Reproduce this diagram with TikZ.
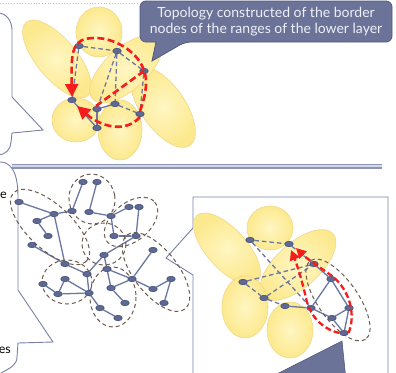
\documentclass[tikz,border=0pt]{standalone}
\usepackage{fontspec}
\setmainfont{Lato}
\usetikzlibrary{shapes.geometric,arrows.meta}

\definecolor{petalin}{HTML}{FFF6C2}
\definecolor{petalout}{HTML}{FCE98E}
\definecolor{petalline}{HTML}{F2D88A}
\definecolor{ndfill}{HTML}{5E6A93}
\definecolor{ndline}{HTML}{454F78}
\definecolor{edgecol}{HTML}{6A77A3}
\definecolor{clustercol}{HTML}{6E5C50}
\definecolor{redcol}{HTML}{F51C1C}
\definecolor{boxfill}{HTML}{6B7398}
\definecolor{boxline}{HTML}{525A82}
\definecolor{boxtext}{HTML}{EEF0F7}
\definecolor{frame}{HTML}{7880A8}
\definecolor{sepdark}{HTML}{8C94B7}
\definecolor{seplight}{HTML}{D3D7E6}
\definecolor{dotcol}{HTML}{A9C1DC}

\pgfdeclarelayer{back}
\pgfdeclarelayer{mid}
\pgfdeclarelayer{front}
\pgfsetlayers{back,mid,main,front}

\tikzset{
  nd/.style={ellipse, fill=ndfill, draw=ndline, line width=0.6pt,
    minimum width=8.5pt, minimum height=5.5pt, inner sep=0pt},
  link/.style={draw=edgecol, line width=1.3pt},
  dlink/.style={link, dash pattern=on 4.5pt off 3pt},
  cluster/.style={draw=clustercol, line width=1pt, dash pattern=on 4pt off 3pt},
  petalstyle/.style={inner color=petalin, outer color=petalout, draw=petalline, line width=0.6pt},
  redarr/.style={draw=redcol, line width=2.6pt, dash pattern=on 7pt off 3.5pt,
    -{Triangle[length=13pt,width=13pt]}},
  redarrs/.style={draw=redcol, line width=2.3pt, dash pattern=on 6pt off 3pt,
    -{Triangle[length=10pt,width=10pt]}},
  redline/.style={draw=redcol, line width=2.6pt, dash pattern=on 7pt off 3.5pt},
  framestyle/.style={draw=frame, line width=0.9pt, fill=white},
}

% ellipse helpers: centre x, centre y, x radius, y radius, angle
\newcommand\petal[5]{\path[petalstyle, rotate around={#5:(#1,#2)}] (#1,#2) ellipse [x radius=#3, y radius=#4];}
\newcommand\ring[5]{\path[cluster, rotate around={#5:(#1,#2)}] (#1,#2) ellipse [x radius=#3, y radius=#4];}

\begin{document}
\begin{tikzpicture}[x=1pt,y=-1pt]
\useasboundingbox (0,0) rectangle (396,372);
\clip (0,0) rectangle (396,372);

% ---------- background: frames, separator, petals ----------
\begin{pgfonlayer}{back}
\fill[white] (0,0) rectangle (396,372);
\draw[dotcol, line width=0.8pt, dotted] (0,3) -- (140,3);

\draw[framestyle] (-10,13) -- (-2,13) to[out=0,in=90] (12,30) -- (12,97) -- (43,130)
  -- (12,133) -- (11,142) to[out=-90,in=0] (-2,155) -- (-10,155);

\fill[sepdark] (12,163.6) rectangle (382,165.4);
\fill[seplight] (12,165.4) rectangle (382,167.2);
\fill[sepdark] (12,167.2) rectangle (382,169);

\draw[framestyle] (-10,162) -- (0,162) to[out=0,in=90] (18,198) -- (18,290) -- (53,342)
  -- (18,343) -- (17,357) to[out=-90,in=30] (3,372) -- (-10,380);

\draw[framestyle] (193,380) -- (193,275) -- (166,258) -- (193,228) -- (193,197)
  -- (388,197) -- (388,380);

% petals of the upper level
\petal{57}{59}{48}{20}{-50}
\petal{99}{32}{23}{25}{0}
\petal{163}{107}{47}{22}{-55}
\petal{126}{69}{45}{21}{42}
\petal{76}{120}{24}{22}{0}
\petal{120}{130}{22}{30}{0}

% petals of the enlarged view
\petal{227}{249}{45}{20}{-48}
\petal{270}{228}{23}{22}{0}
\petal{298}{265}{47}{22}{42}
\petal{245}{307}{23}{31}{0}
\petal{290}{330}{23}{28}{0}
\end{pgfonlayer}

% ---------- callouts ----------
\fill[boxfill] (265,380) -- (342,341) -- (346,380) -- cycle;
\draw[boxline, line width=0.6pt] (265,380) -- (342,341) -- (346,380);

\path[draw=boxline, fill=boxfill, line width=0.8pt, rounded corners=6pt]
  (140,1) -- (392,1) -- (392,42) -- (185,42) [sharp corners] -- (152,61) -- (156,42)
  [rounded corners=6pt] -- (140,42) -- cycle;
\node[text=boxtext, align=center, font=\fontsize{14}{16}\selectfont] (caption) at (266,22)
  {Topology constructed of the border\\nodes of the ranges of the lower layer};

\node[anchor=west, inner sep=0pt, font=\fontsize{12.5}{15}\selectfont] (cutA) at (0,195) {e};
\node[anchor=east, inner sep=0pt, font=\fontsize{12.5}{15}\selectfont] (cutB) at (11,350) {es};

% ---------- upper level: border nodes ----------
\node[nd] (A) at (79,46) {};
\node[nd] (B) at (117,51) {};
\node[nd] (C) at (144,71) {};
\node[nd] (D) at (72,100) {};
\node[nd] (E) at (97,109) {};
\node[nd] (F) at (115,104) {};
\node[nd] (G) at (140,114) {};
\node[nd] (H) at (97,128) {};

\begin{pgfonlayer}{mid}
\draw[dlink] (A) -- (B);
\draw[dlink] (A) -- (D);
\draw[dlink] (B) -- (C);
\draw[dlink] (B) -- (E);
\draw[dlink] (B) -- (F);
\draw[dlink] (C) -- (G);
\draw[dlink] (F) -- (G);
\draw[link] (E) -- (F);
\draw[link] (E) -- (H);
\draw[link] (D) -- (H);
\end{pgfonlayer}

\begin{pgfonlayer}{front}
\draw[redarr] (G.north) .. controls (146,95) and (148,80) .. (C.center)
  .. controls (140,55) and (118,38) .. (95,38) .. controls (72,38) and (71,50) .. (D.north);
\draw[redline] (C.center) -- (96,106);
\draw[redarr] (G.south) .. controls (125,134) and (100,126) .. (77,106);
\end{pgfonlayer}

% ---------- lower level: network with ranges ----------
\node[nd] (n1) at (19,202) {};
\node[nd] (n2) at (83,182) {};
\node[nd] (n3) at (97,182) {};
\node[nd] (n4) at (72,211) {};
\node[nd] (n5) at (54,214) {};
\node[nd] (n6) at (37,221) {};
\node[nd] (n7) at (89,212) {};
\node[nd] (n8) at (111,216) {};
\node[nd] (n9) at (129,207) {};
\node[nd] (n10) at (139,207) {};
\node[nd] (n11) at (48,236) {};
\node[nd] (n12) at (32,245) {};
\node[nd] (n13) at (114,236) {};
\node[nd] (n14) at (136,236) {};
\node[nd] (n15) at (153,250) {};
\node[nd] (n16) at (104,255) {};
\node[nd] (n17) at (65,264) {};
\node[nd] (n18) at (87,274) {};
\node[nd] (n19) at (107,269) {};
\node[nd] (n20) at (132,279) {};
\node[nd] (n21) at (171,279) {};
\node[nd] (n22) at (65,279) {};
\node[nd] (n23) at (43,284) {};
\node[nd] (n24) at (58,294) {};
\node[nd] (n25) at (89,293) {};
\node[nd] (n26) at (111,288) {};
\node[nd] (n27) at (153,289) {};
\node[nd] (n28) at (125,303) {};
\node[nd] (n29) at (100,308) {};
\node[nd] (n30) at (164,303) {};
\node[nd] (n31) at (118,318) {};

\begin{pgfonlayer}{mid}
\foreach \a/\b in {n1/n5, n5/n4, n5/n6, n6/n11, n5/n17, n12/n17, n4/n2, n3/n7, n7/n8,
  n8/n9, n10/n14, n8/n13, n13/n14, n14/n16, n16/n18, n17/n18, n18/n25, n22/n25,
  n24/n22, n23/n24, n24/n25, n16/n19, n19/n20, n19/n26, n26/n20, n26/n28, n25/n29,
  n29/n31, n20/n15, n20/n27, n27/n21, n21/n30}
  \draw[link] (\a) -- (\b);
\ring{50}{227}{50}{22}{-43}
\ring{92}{199}{23}{25}{10}
\ring{131}{222}{31}{19}{40}
\ring{104}{244}{22}{21}{0}
\ring{156}{272}{47}{22}{-52}
\ring{67}{282}{25}{22}{0}
\ring{113}{297}{23}{30}{0}
\end{pgfonlayer}

% ---------- enlarged upper level inside the frame ----------
\node[nd] (m1) at (250,240) {};
\node[nd] (m2) at (289,244) {};
\node[nd] (m3) at (314,264) {};
\node[nd] (m4) at (243,282) {};
\node[nd] (m5) at (264,298) {};
\node[nd] (m6) at (285,306) {};
\node[nd] (m7) at (331,279) {};
\node[nd] (m8) at (311,308) {};
\node[nd] (m9) at (349,308) {};
\node[nd] (m10) at (332,318) {};
\node[nd] (m11) at (344,333) {};

\begin{pgfonlayer}{mid}
\foreach \a/\b in {m1/m2, m1/m8, m2/m3, m4/m3, m4/m5, m5/m3, m5/m6}
  \draw[dlink] (\a) -- (\b);
\foreach \a/\b in {m3/m7, m7/m8, m7/m9, m8/m10, m9/m10, m9/m11, m10/m11, m6/m8}
  \draw[link] (\a) -- (\b);
\ring{338}{300}{48}{20}{-55}
\end{pgfonlayer}

\begin{pgfonlayer}{front}
\draw[redarrs] (m11.east) .. controls (356,315) and (350,290) .. (332,276)
  .. controls (318,266) and (306,258) .. (296,248);
\draw[redarrs] (m11.west) .. controls (325,330) and (310,318) .. (306,298)
  .. controls (302,280) and (296,262) .. (291,250);
\end{pgfonlayer}
\end{tikzpicture}
\end{document}
